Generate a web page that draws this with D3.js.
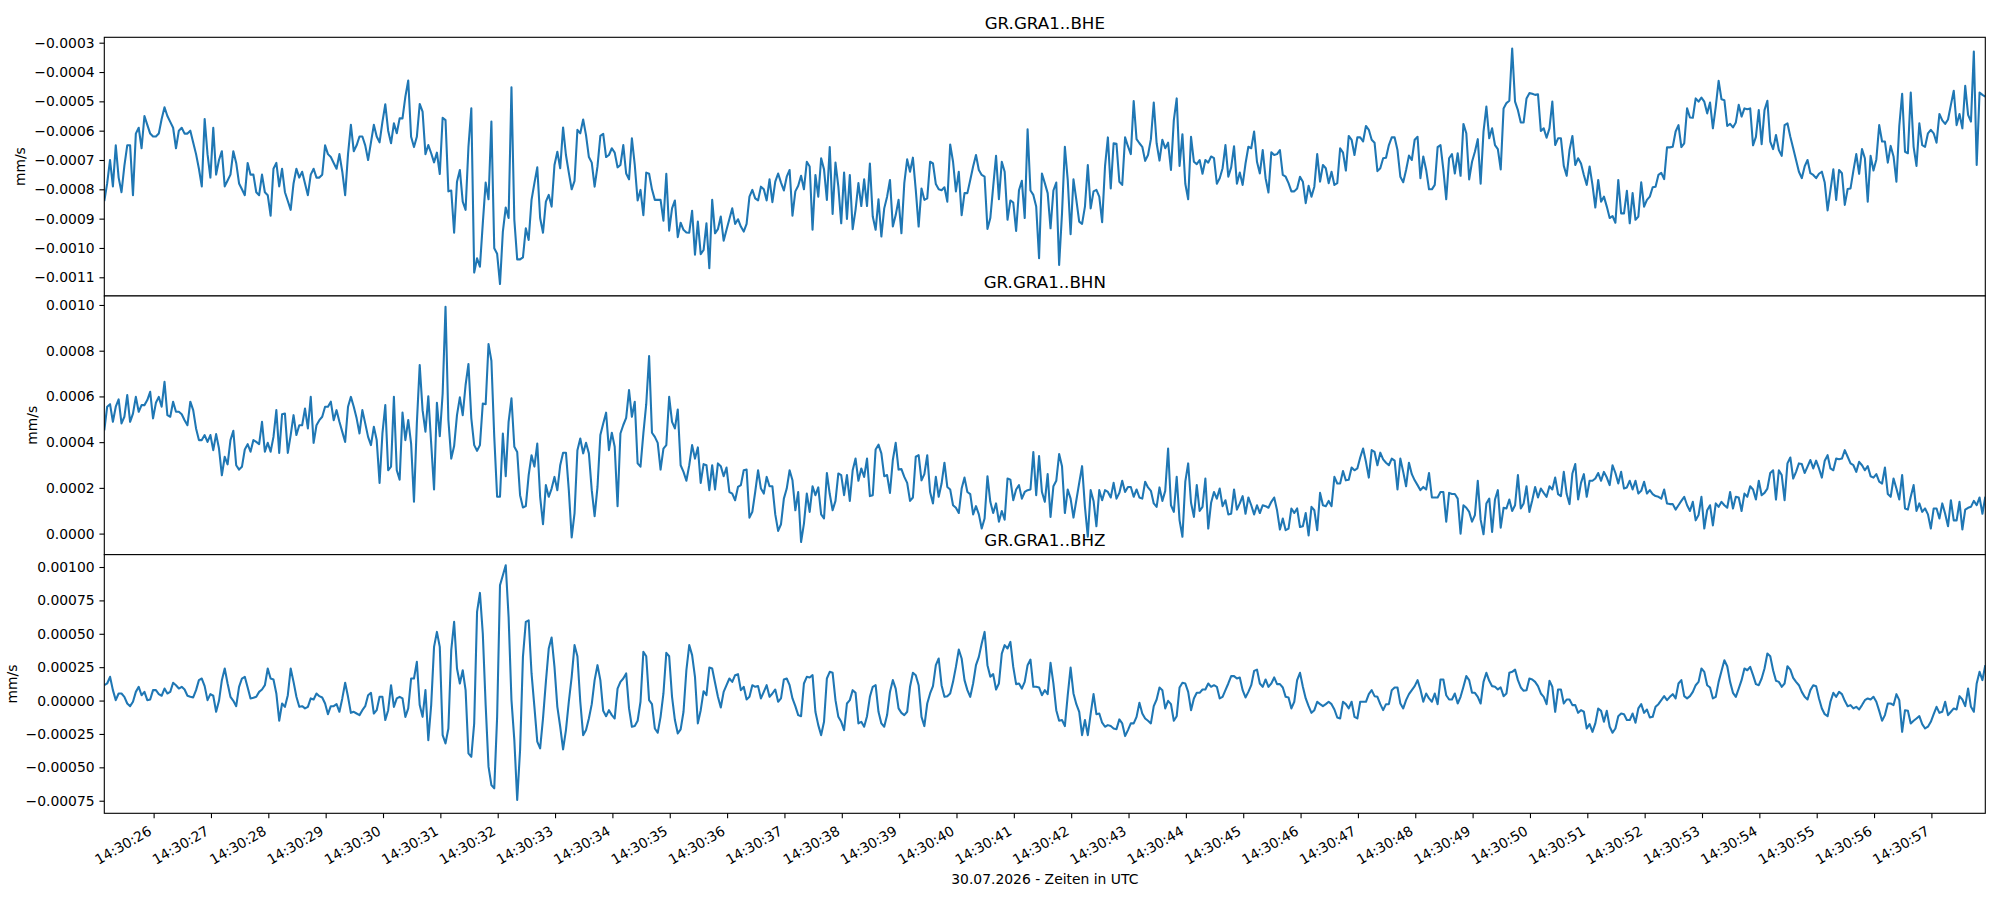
<!DOCTYPE html>
<html lang="en">
<head>
    <meta charset="UTF-8">
    <title>GR.GRA1 - 30.07.2026</title>
    <script src="https://d3js.org/d3.v7.min.js"></script>
    <style>
        body { margin: 0; background: #fff; }
        svg { display: block; font-family: "DejaVu Sans", sans-serif; }
        .tick text { font-family: "DejaVu Sans", sans-serif; font-size: 13.9px; fill: #000; }
        .tick line { stroke: #000; stroke-width: 1.1; }
        .frame { fill: none; stroke: #000; stroke-width: 1.1; }
        .trace { fill: none; stroke: #1f77b4; stroke-width: 2.08; stroke-linejoin: round; }
    </style>
</head>
<body>
<div id="chart"></div>
<script>
// Seismogram samples, 20 per second, in units of 1e-4 mm/s
const startTime = "2026-07-30T14:30:25.140Z";
const sampleRate = 20;
const valueUnit = 1e-4;
const channels = ["GR.GRA1..BHE", "GR.GRA1..BHN", "GR.GRA1..BHZ"];

const bheValues = [
    -8.4,-7.8,-7.0,-7.9,-6.5,-7.6,-8.1,-7.2,-6.5,-6.5,
    -8.2,-6.1,-5.9,-6.6,-5.5,-5.8,-6.1,-6.2,-6.2,-6.1,
    -5.6,-5.2,-5.5,-5.7,-5.9,-6.6,-6.0,-5.9,-6.1,-6.1,
    -6.0,-6.4,-6.8,-7.3,-7.9,-5.6,-6.8,-7.6,-5.9,-7.5,
    -7.0,-6.7,-7.9,-7.7,-7.5,-6.7,-7.1,-7.8,-8.0,-8.2,
    -7.1,-7.5,-7.5,-8.1,-8.2,-7.5,-8.1,-8.2,-8.9,-7.3,
    -7.1,-7.9,-7.3,-8.1,-8.4,-8.7,-7.8,-7.3,-7.6,-7.4,
    -7.8,-8.2,-7.5,-7.3,-7.6,-7.6,-7.5,-6.5,-6.8,-6.9,
    -7.1,-7.3,-6.8,-7.4,-8.2,-6.8,-5.8,-6.7,-6.5,-6.2,
    -6.2,-6.5,-7.0,-6.4,-5.8,-6.2,-6.4,-5.7,-5.1,-6.0,
    -6.43,-5.75,-6.09,-5.58,-5.58,-4.84,-4.29,-6.21,-6.56,-6.21,
    -5.09,-5.35,-6.80,-6.49,-6.77,-7.08,-6.75,-7.48,-5.56,-5.64,
    -8.07,-8.04,-9.48,-7.74,-7.34,-8.42,-8.70,-6.55,-5.24,-10.84,
    -10.35,-10.64,-9.16,-7.77,-8.34,-5.69,-10.01,-10.20,-11.23,-9.44,
    -8.62,-8.98,-4.52,-9.04,-10.39,-10.39,-10.32,-9.33,-9.73,-8.36,
    -7.79,-7.25,-8.98,-9.48,-8.42,-8.19,-8.59,-7.17,-6.72,-7.28,
    -5.89,-6.83,-7.43,-8.00,-7.71,-5.97,-6.09,-5.62,-6.15,-6.90,
    -7.09,-7.91,-7.22,-6.18,-6.11,-6.90,-6.83,-6.60,-6.75,-7.25,
    -7.17,-6.49,-7.46,-7.66,-6.26,-7.17,-8.38,-8.02,-8.88,-7.43,
    -7.47,-8.00,-8.36,-8.36,-8.36,-9.07,-7.47,-9.41,-8.65,-8.38,
    -9.63,-9.14,-9.38,-9.47,-9.48,-8.73,-10.23,-9.10,-10.21,-10.07,
    -9.16,-10.69,-8.36,-9.50,-9.36,-8.93,-9.75,-9.38,-9.01,-8.65,
    -9.18,-9.02,-9.27,-9.44,-9.18,-8.25,-8.02,-8.31,-8.38,-7.91,
    -8.00,-8.38,-7.66,-8.44,-7.74,-7.46,-7.77,-8.04,-7.57,-7.34,
    -8.90,-8.07,-7.88,-7.54,-8.00,-7.06,-7.22,-9.38,-7.51,-8.25,
    -6.94,-7.32,-8.36,-6.56,-8.84,-7.09,-7.91,-9.16,-7.43,-9.01,
    -7.51,-9.36,-8.70,-7.79,-8.57,-7.66,-8.57,-7.12,-8.93,-9.38,
    -8.34,-9.61,-8.65,-8.25,-7.68,-9.27,-8.88,-8.36,-9.50,-7.79,
    -6.98,-7.40,-6.92,-8.02,-9.27,-7.97,-8.36,-8.31,-7.06,
    -7.12,-7.82,-8.00,-8.03,-7.93,-8.42,-6.47,-7.06,-8.07,-7.40,
    -8.88,-8.13,-8.13,-7.68,-7.22,-6.83,-7.34,-7.51,-7.57,-9.35,
    -8.98,-7.91,-6.86,-8.34,-7.06,-7.40,-9.04,-8.38,-8.45,-9.42,
    -8.03,-7.71,-8.98,-5.95,-8.04,-8.19,-8.59,-10.35,-7.46,-7.79,
    -8.13,-9.33,-8.04,-7.77,-10.58,-8.82,-6.55,-7.68,-9.53,-7.66,
    -8.36,-9.10,-9.18,-8.59,-7.17,-8.65,-8.07,-8.02,-8.25,-9.12,
    -7.22,-6.23,-7.97,-6.43,-6.45,-7.74,-7.85,-6.23,-6.53,-6.80,
    -4.99,-6.29,-6.43,-6.55,-7.03,-6.83,-6.29,-5.04,-6.43,-7.02,
    -6.31,-6.60,-6.41,-7.34,-5.64,-4.90,-7.20,-6.12,-7.81,-8.34,
    -6.21,-7.06,-7.14,-7.00,-7.47,-7.00,-7.09,-6.88,-6.94,-7.81,
    -7.62,-7.28,-6.49,-7.57,-7.25,-6.53,-7.81,-7.43,-7.85,-7.12,
    -6.55,-6.60,-6.03,-7.06,-7.46,-6.66,-7.62,-8.11,-6.74,-6.83,
    -6.80,-6.66,-7.51,-7.57,-7.79,-8.07,-8.07,-7.97,-7.57,-7.74,
    -8.47,-7.88,-8.25,-7.91,-6.80,-7.74,-7.17,-7.28,-7.79,-7.40,
    -7.85,-7.79,-6.60,-6.75,-7.36,-6.18,-6.31,-6.83,-6.23,-6.23,
    -6.37,-5.84,-5.97,-6.31,-6.41,-7.38,-7.28,-6.94,-6.92,-6.49,
    -6.23,-6.23,-6.66,-7.57,-7.76,-7.34,-6.85,-7.00,-6.31,-6.21,
    -7.62,-6.88,-7.34,-8.00,-8.00,-7.85,-6.56,-6.49,-7.34,-8.34,
    -6.94,-6.80,-7.46,-6.77,
    -7.54,-5.77,-6.09,-7.66,-7.06,-6.72,-6.29,-7.81,-6.03,-5.18,
    -6.26,-5.92,-6.49,-6.63,-7.32,-5.24,-5.06,-4.98,-3.20,-5.01,
    -5.30,-5.72,-5.72,-4.90,-4.72,-4.74,-4.78,-4.76,-6.01,-5.92,
    -6.24,-5.92,-5.01,-6.49,-6.26,-6.26,-7.20,-7.54,-6.66,-6.18,
    -7.17,-6.94,-7.12,-7.51,-7.85,-7.22,-7.85,-8.62,-7.68,-8.42,
    -8.25,-8.59,-8.98,-8.91,-9.14,-7.68,-8.82,-8.82,-8.05,-9.16,
    -8.13,-9.04,-8.93,-7.76,-8.59,-8.36,-8.25,-7.93,-7.91,-7.51,
    -7.44,-7.65,-6.57,-6.57,-6.55,-6.03,-5.81,-6.56,-6.43,-5.24,
    -5.55,-5.56,-4.90,-5.01,-4.87,-5.01,-5.41,-5.04,-5.92,-5.18,
    -4.30,-4.93,-4.96,-5.84,-5.77,-5.89,-5.72,-5.12,-5.52,-5.24,
    -5.27,-5.24,-6.50,-6.21,-5.30,-6.46,-5.30,-4.98,-6.37,-6.63,
    -6.15,-6.66,-6.86,-5.81,-5.75,-6.21,-6.60,-7.00,-7.40,-7.62,
    -7.22,-7.00,-7.45,-7.51,-7.62,-7.47,-7.40,-7.77,-8.72,-8.03,
    -7.32,-8.36,-7.34,-7.45,-8.53,-7.99,-7.97,-7.36,-6.80,-7.47,
    -6.63,-6.94,-8.42,-6.86,-7.36,-6.98,-5.81,-6.37,-6.37,-7.09,
    -6.52,-6.88,-7.74,-5.84,-4.74,-6.72,-6.77,-4.70,-6.55,-7.20,
    -5.75,-6.49,-6.55,-6.09,-5.97,-6.09,-6.41,-5.43,-5.65,-5.77,
    -5.62,-5.12,-4.64,-5.81,-5.43,-5.92,-4.47,-5.46,-5.69,-3.30,
    -7.17,-4.70,-4.78,-4.84
];

const bhnValues = [
    4.52,5.55,5.66,4.89,5.55,5.87,4.82,5.11,6.06,4.89,
    5.25,5.98,5.33,5.62,5.62,5.84,6.20,5.04,5.72,5.98,
    5.55,6.64,5.18,5.11,5.77,5.33,5.33,5.22,4.96,4.74,
    5.77,5.40,4.60,4.09,4.09,4.31,4.01,4.31,3.65,4.35,
    3.72,2.55,3.36,3.03,4.09,4.50,2.99,2.80,2.92,3.68,
    3.91,3.58,4.09,4.01,3.91,4.89,3.58,3.97,3.58,4.23,
    5.40,3.53,5.22,5.25,3.53,4.31,5.18,4.31,4.74,4.74,
    5.47,4.60,5.98,3.97,4.74,4.96,5.11,5.55,5.55,5.77,
    4.96,5.40,4.89,4.45,4.01,5.55,5.98,5.55,5.04,4.38,
    5.40,4.82,4.23,3.87,4.67,4.09,2.22,4.38,5.62,2.77,
    2.93,5.98,2.77,2.36,5.29,4.09,4.97,3.94,1.39,4.82,
    7.37,5.40,4.46,6.01,3.94,1.93,5.72,4.26,6.13,9.92,
    4.97,3.28,3.83,5.18,5.96,5.18,6.50,7.42,5.04,3.87,
    3.62,3.87,5.69,5.66,8.29,7.56,4.23,1.61,1.61,4.38,
    2.51,4.89,5.92,3.80,3.57,1.68,1.14,1.20,2.56,3.43,
    2.93,3.94,1.61,0.41,2.12,1.61,1.97,2.48,1.90,2.99,
    3.54,3.54,1.90,-0.17,0.90,3.65,4.16,3.51,3.97,3.51,
    1.90,0.76,2.04,4.31,4.82,5.29,3.65,4.41,3.80,1.20,
    4.38,4.75,5.06,6.28,5.11,5.77,3.07,2.93,4.38,5.66,
    7.77,4.41,4.23,3.97,2.80,3.72,3.87,5.98,4.89,4.60,
    5.43,2.99,2.70,2.31,2.99,3.87,3.28,3.77,2.22,3.04,
    2.99,1.90,2.99,1.93,3.07,2.95,2.51,2.89,1.82,1.75,
    1.46,2.04,2.12,2.77,2.80,0.70,0.95,1.82,2.77,1.97,
    1.75,2.48,2.07,2.07,0.84,0.12,0.41,1.53,1.97,2.77,
    2.33,1.02,1.82,-0.37,0.44,1.75,0.95,2.07,1.68,2.02,
    0.84,0.66,2.65,1.73,1.02,1.43,2.63,2.56,1.68,2.56,
    1.43,2.77,3.28,2.31,2.85,2.48,3.28,1.64,1.68,3.68,
    3.89,3.51,2.51,2.56,1.78,3.22,3.97,2.80,2.82,2.48,
    2.22,1.43,1.58,3.36,3.43,2.33,2.60,3.43,1.82,
    1.32,2.48,1.61,2.19,3.10,2.04,1.93,1.24,1.13,0.90,
    1.97,2.45,1.82,1.73,0.84,1.20,0.84,0.22,0.66,2.51,
    1.39,0.90,1.32,0.52,0.99,0.61,2.41,2.36,1.46,1.93,
    2.12,1.53,1.82,1.90,1.93,3.57,1.68,3.39,1.82,1.39,
    2.60,0.73,2.07,2.31,3.48,2.95,0.90,1.93,1.53,0.70,
    1.46,2.22,2.95,1.17,-0.14,1.90,1.43,0.32,1.90,1.46,
    1.90,1.82,1.58,2.22,1.53,1.78,2.31,1.82,2.04,2.04,
    1.61,1.93,1.58,1.53,2.27,2.02,1.87,1.32,1.17,2.02,
    1.43,1.87,3.72,1.24,0.95,2.48,0.58,-0.14,2.27,3.07,
    1.35,0.73,2.12,0.99,1.17,2.41,0.22,1.35,1.82,1.53,
    1.97,1.20,1.46,0.84,0.87,1.93,1.05,1.32,1.64,0.87,
    1.58,1.24,0.84,1.24,0.90,1.24,1.20,1.13,1.39,1.58,
    1.02,0.18,0.66,0.15,0.22,1.10,0.90,1.10,0.29,0.32,
    0.90,-0.08,1.17,1.02,0.15,1.78,1.24,1.20,1.43,1.20,
    2.48,2.19,2.19,2.74,2.33,2.36,2.89,2.77,2.85,3.33,
    3.72,3.14,2.45,3.65,3.57,2.99,3.54,3.25,3.10,2.99,
    3.28,3.19,1.93,3.28,2.70,2.07,3.10,2.60,2.33,2.12,
    1.90,2.04,1.93,2.65,1.58,1.58,1.58,1.82,1.82,0.52,
    1.78,1.73,1.73,1.53,
    0.00,1.24,1.13,0.95,0.52,0.81,2.31,0.61,-0.03,1.32,
    1.53,0.07,1.49,1.90,0.26,1.13,1.10,1.49,0.99,1.24,
    2.56,1.10,1.32,2.07,0.95,1.46,2.04,1.58,1.97,1.78,
    1.61,2.07,1.93,2.45,1.73,1.64,2.70,1.73,1.29,2.63,
    3.04,1.49,2.22,2.60,1.61,2.31,2.31,2.41,2.65,2.31,
    2.70,2.45,2.12,2.99,2.65,2.19,2.70,1.97,2.02,2.31,
    1.93,2.31,1.75,1.87,2.27,1.75,1.90,1.73,1.64,1.61,
    1.53,1.93,1.32,1.29,1.29,1.05,1.24,1.43,1.61,1.24,
    0.99,1.39,0.58,0.81,1.61,0.22,1.02,1.24,0.36,1.32,
    1.17,1.39,1.24,1.13,1.82,1.10,1.61,1.58,0.99,1.75,
    1.61,2.07,1.93,1.49,2.31,1.68,1.78,1.97,2.65,2.77,
    1.49,2.77,2.56,1.46,3.07,3.33,2.41,2.70,3.07,3.04,
    2.65,2.93,3.22,2.85,3.19,2.85,2.45,3.19,3.43,2.85,
    2.77,3.28,3.25,3.28,3.65,3.36,3.07,2.99,2.70,3.14,
    2.99,2.77,2.95,2.51,2.45,2.60,2.27,2.19,2.89,1.73,
    1.61,2.41,1.97,1.49,2.56,1.10,1.05,1.61,2.12,0.99,
    1.32,0.95,1.10,0.84,0.22,1.10,1.10,0.66,1.32,0.87,
    0.32,1.46,0.58,0.58,1.39,0.18,1.05,1.13,1.17,1.43,
    1.24,1.58,0.87,1.61
];

const bhzValues = [
    1.15,1.28,1.78,0.78,0.03,0.53,0.53,0.28,-0.22,-0.42,
    -0.09,0.65,1.03,0.40,0.65,0.03,0.08,0.78,0.78,0.48,
    0.36,0.90,0.53,0.65,1.33,1.15,0.90,1.03,0.83,0.36,
    0.28,0.23,0.78,1.53,1.65,1.08,0.03,0.48,0.36,-0.84,
    -0.02,1.53,2.40,1.28,0.28,-0.02,-0.42,1.03,1.65,1.78,
    0.98,0.16,0.21,0.28,0.65,0.83,1.15,2.40,1.65,1.58,
    0.53,-1.51,-0.22,-0.47,0.40,2.40,1.40,0.28,-0.47,-0.42,
    -0.59,-0.47,0.16,0.08,0.53,0.33,0.23,-0.22,-1.02,-0.42,
    -0.42,-0.27,-0.84,0.16,1.33,0.28,-0.92,-0.84,-0.97,-1.09,
    -0.72,-0.42,0.40,0.58,-0.97,-0.72,0.28,0.28,-1.46,-0.72,
    1.15,-0.47,0.16,0.28,0.16,-1.22,-0.59,1.65,1.65,2.90,
    -0.34,-1.22,0.78,-2.96,-0.34,4.02,5.14,4.02,-2.59,-3.21,
    -2.09,3.77,5.89,2.40,1.28,2.27,0.78,-3.96,-4.21,-1.71,
    6.64,8.06,5.02,-0.34,-4.95,
    -6.33,-6.57,-1.22,8.63,9.38,10.13,6.26,0.03,-2.96,-7.45,
    -3.71,3.27,5.89,6.01,2.03,-0.47,-3.08,-3.58,-1.34,1.40,
    3.90,4.72,2.52,-0.47,-1.96,-3.66,-2.21,-0.09,1.78,4.15,
    3.32,-0.09,-2.59,-2.21,-1.34,-0.27,1.53,2.65,1.53,-0.77,
    -1.17,-0.72,-1.09,-1.34,0.90,1.40,1.65,2.03,-0.59,-1.96,
    -1.91,-1.51,-0.09,3.65,3.32,0.03,-0.27,-2.09,-2.41,-1.22,
    0.53,3.57,3.32,0.28,-1.46,-2.46,-2.16,-0.84,2.27,4.15,
    3.40,1.78,-1.71,-0.72,0.70,0.40,2.47,2.40,1.33,0.28,
    -0.52,0.65,1.15,1.65,1.40,1.90,1.98,0.78,1.03,0.08,
    0.28,1.15,1.03,1.08,0.16,0.65,1.15,0.28,0.53,0.83,
    -0.09,0.16,1.58,1.65,1.15,0.16,-0.42,-1.09,-1.17,1.28,
    1.78,1.73,1.90,-0.84,-1.84,-2.59,-1.59,1.65,2.15,2.08,
    0.03,-1.22,-1.59,-2.21,-0.22,0.03,0.78,0.58,-1.71,-1.59,
    -1.96,-1.17,0.28,1.03,1.15,-0.84,-1.71,-1.96,-1.09,0.65,
    1.53,0.90,-0.59,-0.92,-1.09,-0.84,1.03,2.08,1.90,1.15,
    -1.22,-1.91,-0.22,0.53,1.08,2.65,3.15,1.15,0.28,0.33,
    0.53,1.40,2.52,3.82,3.15,1.53,0.78,0.28,1.28,2.65,
    3.27,4.27,5.14,2.65,1.78,1.98,0.83,1.28,3.52,4.15,
    3.90,4.39,2.52,1.23,1.28,0.90,1.40,2.65,3.07,1.03,
    1.03,0.98,0.40,0.78,0.48,
    2.82,1.28,-0.72,-1.51,-1.46,-1.91,0.40,2.47,0.53,-0.27,
    -0.84,-2.59,-1.46,-2.59,-0.97,0.48,-1.02,-0.97,-1.66,-1.96,
    -1.84,-1.91,-2.09,-2.14,-1.41,-1.71,-2.66,-2.21,-1.71,-1.71,
    -1.22,-0.17,-0.97,-1.34,-1.51,-1.71,-0.42,0.08,0.98,0.78,
    -0.59,-0.02,-0.27,-1.51,-1.17,0.98,1.33,1.28,0.65,-0.72,
    0.16,0.58,0.58,0.83,0.83,1.28,1.03,1.15,1.03,0.16,
    0.28,0.78,1.28,1.83,1.83,1.65,1.73,0.78,0.23,0.65,
    1.15,2.22,2.32,1.28,1.03,1.58,1.03,1.28,1.73,1.23,
    1.23,0.98,0.28,0.23,-0.59,-0.09,1.53,2.08,1.03,0.16,
    -0.42,-0.92,-0.72,-0.09,-0.27,-0.42,-0.27,-0.09,-0.27,-0.67,
    -1.27,-1.34,-0.09,-0.27,-0.59,-0.09,-1.22,-1.34,-0.09,-0.09,
    -0.09,0.48,0.78,0.33,0.28,-0.27,-0.72,-0.27,-0.27,0.78,
    0.98,0.98,-0.22,-0.59,0.03,0.48,0.78,1.08,1.53,0.83,
    -0.09,0.53,0.16,-0.09,0.53,-0.27,1.58,1.58,0.40,0.08,
    0.08,0.53,-0.22,0.28,1.03,1.83,1.53,0.58,0.58,0.28,
    -0.22,1.40,2.08,1.48,1.08,1.03,0.83,0.98,0.33,0.53,
    2.08,2.15,2.32,1.53,0.98,0.73,0.78,1.65,1.58,1.40,
    1.08,0.53,0.28,-0.27,1.48,1.03,-0.84,0.83,0.83,-0.22,
    0.08,0.08,-0.34,-0.34,-0.92,-0.72,-0.84,-2.09,-1.76,-2.34,
    -1.71,-0.59,-0.77,-1.59,
    -0.77,-1.96,-2.41,-2.09,-1.17,-0.97,-1.02,-1.46,-1.46,-0.97,
    -1.66,-0.59,-0.27,-0.92,-0.67,-1.27,-1.22,-0.47,-0.27,0.03,
    0.33,0.03,0.28,0.48,0.16,1.28,1.53,0.33,0.16,0.33,
    0.65,1.15,1.40,2.40,2.15,1.15,0.98,0.16,0.28,1.40,
    2.22,3.02,2.57,1.40,0.58,0.28,0.90,1.53,2.40,2.27,
    2.52,1.90,1.23,1.15,1.65,2.40,3.52,3.32,2.27,1.48,
    1.40,1.03,1.28,2.57,2.32,1.70,1.40,1.15,0.65,0.28,0.08,
    0.78,1.15,1.08,0.16,-0.59,-1.02,-1.17,-0.09,0.58,0.28,
    0.65,0.48,-0.02,-0.42,-0.34,-0.59,-0.47,-0.67,-0.34,0.03,
    0.16,0.08,0.28,-0.09,-0.77,-1.51,-1.09,-0.22,-0.22,-0.34,
    0.48,0.03,-2.34,-0.72,-0.77,-1.71,-1.51,-1.34,-1.17,-1.76,
    -2.09,-1.96,-1.59,-1.02,-0.47,-0.92,-0.84,-0.09,-1.09,-0.84,
    -0.59,-0.67,0.33,0.08,-0.42,0.90,-0.47,-0.84,1.28,2.15,
    1.53,2.65
];

// axis settings
const bheDomain = [-0.0011637, -0.0002816];
const bhnDomain = [-0.0000920, 0.0010394];
const bhzDomain = [-0.0008442, 0.0010927];
const bheTicks = [-0.0011, -0.0010, -0.0009, -0.0008, -0.0007, -0.0006, -0.0005, -0.0004, -0.0003];
const bhnTicks = [0.0000, 0.0002, 0.0004, 0.0006, 0.0008, 0.0010];
const bhzTicks = [-0.00075, -0.00050, -0.00025, 0.00000, 0.00025, 0.00050, 0.00075, 0.00100];
const xTickSeconds = [26, 27, 28, 29, 30, 31, 32, 33, 34, 35, 36, 37, 38, 39, 40, 41,
                      42, 43, 44, 45, 46, 47, 48, 49, 50, 51, 52, 53, 54, 55, 56, 57];
const xLabel = "30.07.2026 - Zeiten in UTC";
const yLabel = "mm/s";

// layout (px)
const width = 2000, height = 900;
const margin = { top: 37.3, right: 14.7, bottom: 86.7, left: 104.3 };
const plotWidth = width - margin.left - margin.right;
const panelHeight = (height - margin.top - margin.bottom) / 3;
const tickLen = 4.86, tickPad = 4.86;

const svg = d3.select("#chart")
    .append("svg")
    .attr("width", width)
    .attr("height", height);

svg.append("rect").attr("width", width).attr("height", height).attr("fill", "#fff");

const t0 = new Date(startTime);
const timeOf = i => new Date(t0.getTime() + i * 1000 / sampleRate);
const x = d3.scaleUtc()
    .domain([t0, timeOf(bheValues.length - 1)])
    .range([0, plotWidth]);

const panels = [
    { name: channels[0], values: bheValues, domain: bheDomain, ticks: bheTicks, fmt: ".4f" },
    { name: channels[1], values: bhnValues, domain: bhnDomain, ticks: bhnTicks, fmt: ".4f" },
    { name: channels[2], values: bhzValues, domain: bhzDomain, ticks: bhzTicks, fmt: ".5f" }
];

panels.forEach(function(p, k) {
    const g = svg.append("g")
        .attr("transform", "translate(" + margin.left + "," + (margin.top + k * panelHeight) + ")");

    const y = d3.scaleLinear().domain(p.domain).range([panelHeight, 0]);

    // white axes background hides the ticks of the panel above
    g.append("rect")
        .attr("width", plotWidth)
        .attr("height", panelHeight)
        .attr("fill", "#fff");

    const yAxis = g.append("g")
        .attr("font-family", null)
        .attr("font-size", null)
        .call(d3.axisLeft(y)
            .tickValues(p.ticks)
            .tickFormat(d3.format(p.fmt))
            .tickSize(tickLen)
            .tickPadding(tickPad));
    yAxis.attr("font-family", null).attr("font-size", null);
    yAxis.select(".domain").remove();

    const bb = yAxis.node().getBBox();
    g.append("text")
        .attr("transform", "translate(" + (bb.x - 8.9) + "," + (panelHeight / 2) + ") rotate(-90)")
        .attr("text-anchor", "middle")
        .style("font-size", "13.9px")
        .text(yLabel);

    // trace
    g.append("clipPath")
        .attr("id", "clip" + k)
        .append("rect")
        .attr("width", plotWidth)
        .attr("height", panelHeight);

    const line = d3.line()
        .x((d, i) => x(timeOf(i)))
        .y(d => y(d * valueUnit));

    g.append("path")
        .datum(p.values)
        .attr("class", "trace")
        .attr("clip-path", "url(#clip" + k + ")")
        .attr("d", line);

    // bottom panel gets the time axis
    if (k === panels.length - 1) {
        const xTicks = xTickSeconds.map(s => new Date(Date.UTC(2026, 6, 30, 14, 30, s)));
        const xAxis = g.append("g")
            .attr("transform", "translate(0," + panelHeight + ")")
            .call(d3.axisBottom(x)
                .tickValues(xTicks)
                .tickFormat(d3.utcFormat("%H:%M:%S"))
                .tickSize(tickLen));
        xAxis.attr("font-family", null).attr("font-size", null);
        xAxis.select(".domain").remove();
        xAxis.selectAll(".tick text")
            .attr("y", null)
            .attr("dy", null)
            .attr("text-anchor", "end")
            .attr("transform", "translate(-1.5,20.5) rotate(-30)");
    }

    g.append("rect")
        .attr("class", "frame")
        .attr("width", plotWidth)
        .attr("height", panelHeight);

    g.append("text")
        .attr("x", plotWidth / 2)
        .attr("y", -8.3)
        .attr("text-anchor", "middle")
        .style("font-size", "16.7px")
        .text(p.name);
});

svg.append("text")
    .attr("x", margin.left + plotWidth / 2)
    .attr("y", 884)
    .attr("text-anchor", "middle")
    .style("font-size", "13.9px")
    .text(xLabel);
</script>
</body>
</html>
